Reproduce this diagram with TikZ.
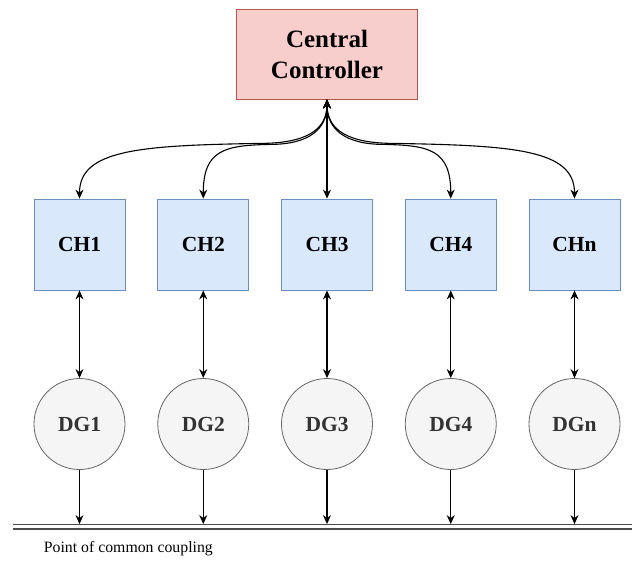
\documentclass[tikz,border=0pt]{standalone}
\usepackage{fontspec}
\setmainfont{Liberation Serif}
\usepackage{xcolor}
\usepackage{tikz}
\usetikzlibrary{trees}
\usetikzlibrary{arrows.meta}
\definecolor{ccfill}{HTML}{F8CECC}
\definecolor{ccline}{HTML}{B85450}
\definecolor{chfill}{HTML}{DAE8FC}
\definecolor{chline}{HTML}{6C8EBF}
\definecolor{dgfill}{HTML}{F5F5F5}
\definecolor{dgline}{HTML}{666666}
\definecolor{dgtext}{HTML}{333333}
\tikzset{
  ctrl/.style={draw=ccline, fill=ccfill, line width=0.8pt, minimum width=181pt, minimum height=90pt,
    align=center, inner sep=0pt, font=\fontsize{25}{31}\selectfont\bfseries},
  chbox/.style={draw=chline, fill=chfill, line width=0.8pt, minimum size=91pt, inner sep=0pt,
    font=\fontsize{21.5}{25}\selectfont\bfseries},
  dgnode/.style={circle, draw=dgline, fill=dgfill, text=dgtext, line width=0.8pt, minimum size=91pt,
    inner sep=0pt, font=\fontsize{21.5}{25}\selectfont\bfseries},
  busline/.style={draw=black!70, line width=1.2pt, double=white, double distance=3.6pt}
}

\begin{document}
\begin{tikzpicture}[
    x=1pt, y=1pt,
    >={Stealth[length=9pt,width=8pt]},
    line width=1.1pt,
    level 1/.style={sibling distance=123.75pt, level distance=190.5pt,
      edge from parent/.style={draw=none}},
    level 2/.style={level distance=179.5pt,
      edge from parent/.style={draw,<->,line width=1.1pt}}
]
\useasboundingbox (0,0) rectangle (632,-565);
\node[ctrl] (cc) at (327,-54) {Central\\Controller}
  child { node[chbox] (ch1) {CH1}
    child { node[dgnode] (dg1) {DG1}}
  }
  child { node[chbox] (ch2) {CH2}
    child { node[dgnode] (dg2) {DG2}}
  }
  child { node[chbox] (ch3) {CH3}
    child { node[dgnode] (dg3) {DG3}}
  }
  child { node[chbox] (ch4) {CH4}
    child { node[dgnode] (dg4) {DG4}}
  }
  child { node[chbox] (chn) {CHn}
    child { node[dgnode] (dgn) {DGn}}
  }
;
% controller links
\draw[<->] (cc.south) .. controls +(0,-31) and +(45,0) .. ++(-67,-44)
  .. controls +(-120,-2) and +(0,49) .. (ch1.north);
\draw[<->] (cc.south) .. controls +(0,-29) and +(40,0) .. ++(-57,-45)
  .. controls +(-45,-1) and +(0,49) .. (ch2.north);
\draw[<->] (cc.south) -- (ch3.north);
\draw[<->] (cc.south) .. controls +(0,-29) and +(-40,0) .. ++(57,-45)
  .. controls +(45,-1) and +(0,49) .. (ch4.north);
\draw[<->] (cc.south) .. controls +(0,-31) and +(-45,0) .. ++(67,-44)
  .. controls +(120,-2) and +(0,49) .. (chn.north);
% bus
\coordinate (busL) at (13,-526.5);
\coordinate (busR) at (632,-526.5);
\draw[busline] (busL) -- (busR);
\draw[->, shorten >=2.4pt] (dg1) -- (dg1 |- busL);
\draw[->, shorten >=2.4pt] (dg2) -- (dg2 |- busL);
\draw[->, shorten >=2.4pt] (dg3) -- (dg3 |- busL);
\draw[->, shorten >=2.4pt] (dg4) -- (dg4 |- busL);
\draw[->, shorten >=2.4pt] (dgn) -- (dgn |- busL);
\node[anchor=west, font=\fontsize{15.8}{18}\selectfont] (pcc) at (40,-549) {Point of common coupling};
\end{tikzpicture}
\end{document}
